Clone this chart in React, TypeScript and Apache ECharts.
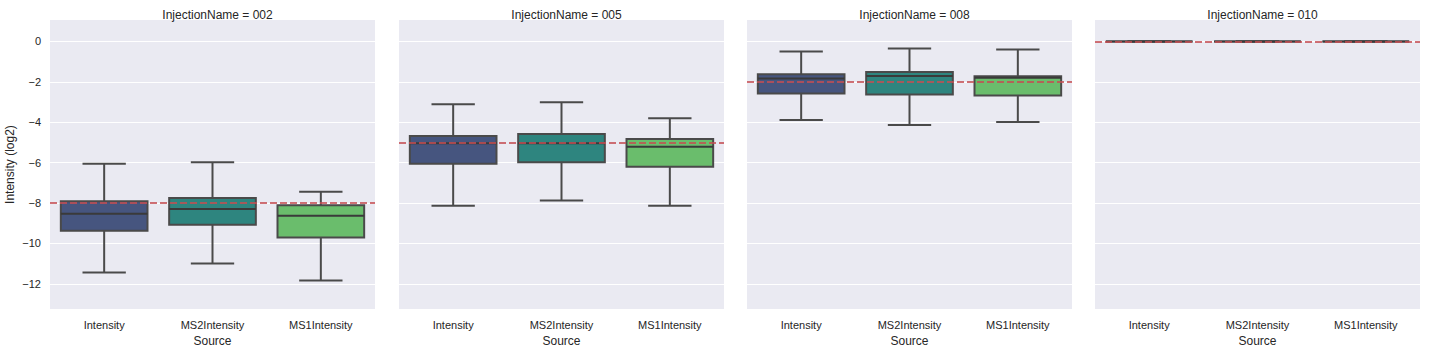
import React, { useEffect, useRef } from "react";
import * as echarts from "echarts";

const categories = ["Intensity", "MS2Intensity", "MS1Intensity"];
const panelNames = ["002", "005", "008", "010"];
const refLines = [-8, -5, -2, 0];
const yTicks = [0, -2, -4, -6, -8, -10, -12];
// [min, q1, median, q3, max] per category
const stats002 = [
  [-11.44, -9.37, -8.53, -7.91, -6.06],
  [-10.99, -9.07, -8.29, -7.75, -5.98],
  [-11.83, -9.7, -8.63, -8.11, -7.44],
];
const stats005 = [
  [-8.13, -6.06, -5.04, -4.68, -3.11],
  [-7.88, -5.98, -5.04, -4.58, -3.01],
  [-8.13, -6.21, -5.22, -4.83, -3.8],
];
const stats008 = [
  [-3.89, -2.58, -1.83, -1.63, -0.5],
  [-4.14, -2.63, -1.71, -1.52, -0.35],
  [-3.99, -2.68, -1.8, -1.73, -0.4],
];
const stats010 = [
  [0, 0, 0, 0, 0],
  [0, 0, 0, 0, 0],
  [0, 0, 0, 0, 0],
];
const allStats = [stats002, stats005, stats008, stats010];
const boxColors = ["#46557f", "#2e857f", "#6abd6c"];

const FONT = "'Liberation Sans', Arial, sans-serif";
const TEXT = "#262626";
const EDGE = "#4a4a4a";
const gridLefts = [50, 399, 747, 1095];
const gridWidth = 325;
const gridTop = 20;
const gridHeight = 291;
const yMin = -13.25;
const yMax = 1.06;

export default function App() {
  const ref = useRef<HTMLDivElement>(null);
  useEffect(() => {
    if (!ref.current) return;
    const chart = echarts.init(ref.current, null, { renderer: "svg" });
    const grids = gridLefts.map((l) => ({
      left: l,
      top: gridTop,
      width: gridWidth,
      height: gridHeight,
      show: true,
      backgroundColor: "#eaeaf2",
      borderWidth: 0,
    }));
    const xAxes = gridLefts.map((_, i) => ({
      type: "category",
      gridIndex: i,
      data: categories,
      axisLine: { show: false },
      axisTick: { show: false },
      axisLabel: { color: TEXT, fontFamily: FONT, fontSize: 11, margin: 10 },
      splitLine: { show: false },
      name: "Source",
      nameLocation: "middle",
      nameGap: 24,
      nameTextStyle: { color: TEXT, fontFamily: FONT, fontSize: 12 },
    }));
    const yAxes = gridLefts.map((_, i) => ({
      type: "value",
      gridIndex: i,
      min: yMin,
      max: yMax,
      axisLine: { show: false },
      axisTick: { show: false, customValues: yTicks },
      axisLabel: {
        show: i === 0,
        customValues: yTicks,
        color: TEXT,
        fontFamily: FONT,
        fontSize: 11,
        margin: 9,
        formatter: (v: number) => String(v).replace("-", "\u2212"),
      },
      splitLine: { show: true, lineStyle: { color: "#ffffff", width: 1.2 } },
      name: i === 0 ? "Intensity (log2)" : "",
      nameLocation: "middle",
      nameGap: 34,
      nameRotate: 90,
      nameTextStyle: { color: TEXT, fontFamily: FONT, fontSize: 12 },
    }));
    const series = allStats.map((stats, i) => ({
      type: "custom",
      xAxisIndex: i,
      yAxisIndex: i,
      data: stats.map((s, k) => [k, ...s]),
      encode: { x: 0, y: [1, 2, 3, 4, 5] },
      renderItem: (params: any, api: any) => {
        const x = api.value(0);
        const pMin = api.coord([x, api.value(1)]);
        const yQ1 = api.coord([x, api.value(2)])[1];
        const yMed = api.coord([x, api.value(3)])[1];
        const yQ3 = api.coord([x, api.value(4)])[1];
        const yMaxP = api.coord([x, api.value(5)])[1];
        const cx = pMin[0];
        const yMinP = pMin[1];
        const band = api.size([1, 0])[0];
        const bw = band * 0.8;
        const cw = bw / 2;
        const ls = { stroke: EDGE, lineWidth: 2, fill: "none" };
        return {
          type: "group",
          children: [
            { type: "line", shape: { x1: cx, y1: yMaxP, x2: cx, y2: yQ3 }, style: ls },
            { type: "line", shape: { x1: cx, y1: yQ1, x2: cx, y2: yMinP }, style: ls },
            { type: "line", shape: { x1: cx - cw / 2, y1: yMaxP, x2: cx + cw / 2, y2: yMaxP }, style: ls },
            { type: "line", shape: { x1: cx - cw / 2, y1: yMinP, x2: cx + cw / 2, y2: yMinP }, style: ls },
            {
              type: "rect",
              shape: { x: cx - bw / 2, y: yQ3, width: bw, height: yQ1 - yQ3 },
              style: { fill: boxColors[params.dataIndex], stroke: EDGE, lineWidth: 2 },
            },
            { type: "line", shape: { x1: cx - bw / 2, y1: yMed, x2: cx + bw / 2, y2: yMed }, style: { stroke: "#3a3a3a", lineWidth: 2 } },
          ],
        };
      },
      markLine: {
        silent: true,
        symbol: ["none", "none"],
        label: { show: false },
        z: 10,
        lineStyle: { color: "#c44e52", type: [7, 3], width: 2, opacity: 0.8 },
        data: [{ yAxis: refLines[i] }],
      },
    }));
    chart.setOption({
      animation: false,
      title: panelNames.map((n, i) => ({
        text: "InjectionName = " + n,
        left: gridLefts[i] + gridWidth / 2,
        top: 4,
        textAlign: "center",
        textStyle: { color: TEXT, fontFamily: FONT, fontSize: 12, fontWeight: "normal" },
      })),
      grid: grids,
      xAxis: xAxes,
      yAxis: yAxes,
      series,
    });
    return () => chart.dispose();
  }, []);
  return (
    <div
      ref={ref}
      style={{ position: "fixed", left: 0, top: 0, width: 1432, height: 352, background: "#ffffff" }}
    />
  );
}
